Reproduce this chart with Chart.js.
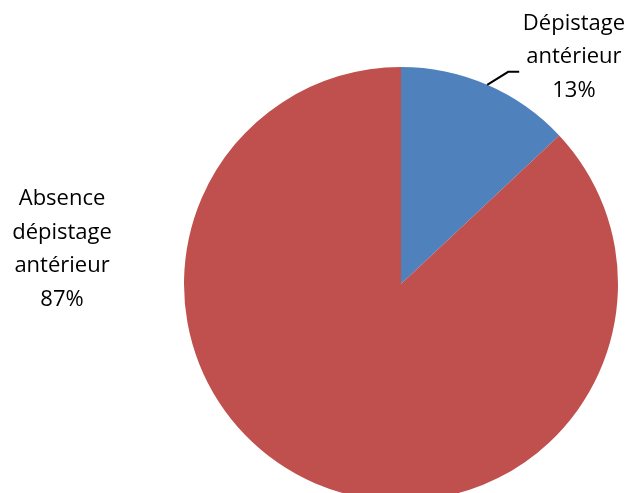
<!DOCTYPE html>
<html>
<head>
<meta charset="utf-8">
<script src="https://cdn.jsdelivr.net/npm/chart.js@4.4.0/dist/chart.umd.min.js"></script>
<style>
  html, body { margin: 0; padding: 0; background: #fff; overflow: hidden; }
  #wrap { width: 630px; height: 520px; }
</style>
</head>
<body>
<div id="wrap"><canvas id="chartPie" width="630" height="520"></canvas></div>
<script>
// donnees du graphique
const categories = ['Dépistage antérieur', 'Absence dépistage antérieur'];
const percents = [13, 87];
const sliceColors = ['#4F81BD', '#C0504D'];

// lignes du texte des etiquettes
const labelLines = [
  ['Dépistage', 'antérieur'],
  ['Absence', 'dépistage', 'antérieur']
];

// etiquettes a la maniere d'excel
const pieLabels = {
  id: 'pieLabels',
  afterDraw(chart) {
    const ctx = chart.ctx;
    const arcs = chart.getDatasetMeta(0).data;
    const cx = arcs[0].x, cy = arcs[0].y, r = arcs[0].outerRadius;
    // place relative au rayon
    const spots = [
      { x: cx + 0.797 * r, y: cy - 1.046 * r },
      { x: cx - 1.562 * r, y: cy - 0.161 * r }
    ];
    const lh = 33.5;
    ctx.save();
    ctx.font = '22px "Open Sans", sans-serif';
    ctx.fillStyle = '#000';
    ctx.textAlign = 'center';
    ctx.textBaseline = 'middle';
    arcs.forEach((arc, i) => {
      const lines = labelLines[i].concat([percents[i] + '%']);
      const top = spots[i].y - (lines.length - 1) * lh / 2;
      lines.forEach((t, j) => ctx.fillText(t, spots[i].x, top + j * lh));
    });

    // trait de rappel pour la petite part
    const a0 = arcs[0];
    const mid = (a0.startAngle + a0.endAngle) / 2;
    const px = cx + Math.cos(mid) * r;
    const py = cy + Math.sin(mid) * r;
    ctx.strokeStyle = '#000';
    ctx.lineWidth = 2;
    ctx.beginPath();
    ctx.moveTo(px, py);
    ctx.lineTo(px + 21, py - 13);
    ctx.lineTo(px + 32, py - 13);
    ctx.stroke();
    ctx.restore();
  }
};

const context = document.getElementById('chartPie');
const chartPie = new Chart(context, {
  type: 'pie',
  data: {
    labels: categories,
    datasets: [{
      data: percents,
      backgroundColor: sliceColors,
      borderWidth: 0
    }]
  },
  options: {
    responsive: false,
    animation: false,
    layout: {
      padding: { left: 184, right: 12, top: 67, bottom: 19 }
    },
    plugins: {
      legend: { display: false },
      tooltip: { enabled: false }
    }
  },
  plugins: [pieLabels]
});
</script>
</body>
</html>
